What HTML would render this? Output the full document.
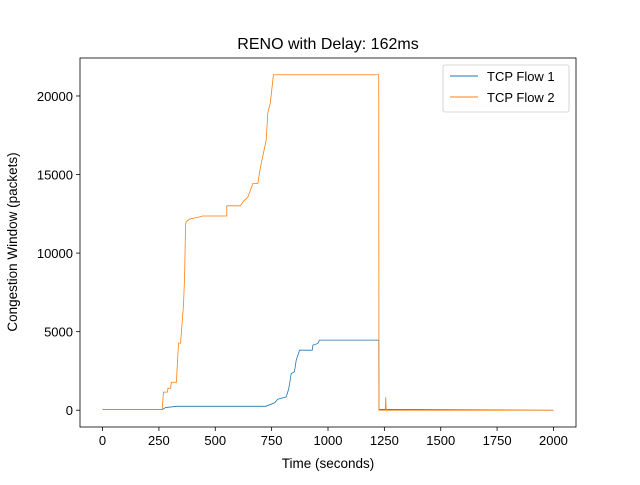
<!DOCTYPE html>
<html><head><meta charset="utf-8"><style>
body{margin:0;background:#fff;}
svg{font-family:"Liberation Sans","DejaVu Sans",sans-serif;}
</style></head><body>
<svg id="chart" width="640" height="480">
<rect width="640" height="480" fill="#fff"/>
<text x="328" y="49" font-size="16" text-anchor="middle">RENO with Delay: 162ms</text>
<g id="grid"></g>
<g id="series"></g>
<rect x="80" y="58" width="496" height="369" fill="none" stroke="#000" stroke-width="0.8"/>
<g id="xticks"></g><g id="yticks"></g>
<text x="328" y="468" font-size="13.5" text-anchor="middle">Time (seconds)</text>
<text transform="translate(17,242) rotate(-90)" font-size="13.5" text-anchor="middle">Congestion Window (packets)</text>
<g>
<rect x="443" y="65" width="126" height="47" fill="#fff" stroke="#ccc" stroke-width="0.8" rx="2"/>
<g>
<line x1="450" y1="76" x2="478" y2="76" stroke="#1f77b4" stroke-width="1"/>
<text x="487" y="81" font-size="13">TCP Flow 1</text></g>
<g>
<line x1="450" y1="97" x2="478" y2="97" stroke="#ff7f0e" stroke-width="1"/>
<text x="487" y="102" font-size="13">TCP Flow 2</text></g>
</g>
</svg>
<script>
const flow1X=[0,265,280,328,723,763,777,815,826,837,851,859,874,930,933,955,962,1225,1226,1255,2000];
const flow1Y=[50,50,170,250,250,465,700,850,1380,2340,2440,3180,3820,3820,4140,4250,4460,4460,50,50,0];
const flow2X=[0,265,270,288,290,302,305,328,330,337,346,359,364,368,371,386,426,443,551,551,611,627,644,659,667,689,696,704,715,726,733,744,758,1225,1226,1254,1256,1258,1262,2000];
const flow2Y=[50,50,1150,1150,1400,1400,1780,1780,2480,4270,4270,6690,8540,11780,12000,12170,12290,12360,12360,13010,13010,13330,13550,14120,14440,14440,15100,15730,16450,17200,18910,19550,21350,21350,0,0,830,0,0,0];
const xTicks=[0,250,500,750,1000,1250,1500,1750,2000];
const yTicks=[0,5000,10000,15000,20000];
const X0=80,X1=576,Y0=427,Y1=58,xmin=-100,xmax=2100,ymin=-1067,ymax=22417;
const sx=v=>X0+(v-xmin)/(xmax-xmin)*(X1-X0);
const sy=v=>Y0-(v-ymin)/(ymax-ymin)*(Y0-Y1);
const NS="http://www.w3.org/2000/svg";
function mk(t,a,p){const e=document.createElementNS(NS,t);for(const k in a)e.setAttribute(k,a[k]);p.appendChild(e);return e;}
const ser=document.getElementById('series');
function line(xs,ys,color,name){
  const d=xs.map((x,i)=>(i?'L':'M')+sx(x).toFixed(2)+' '+sy(ys[i]).toFixed(2)).join(' ');
  const p=mk('path',{d:d,fill:'none',stroke:color,'stroke-width':0.8,'stroke-linejoin':'miter'},ser);
  
  
}
line(flow1X,flow1Y,'#1f77b4','flow-1-line');
line(flow2X,flow2Y,'#ff7f0e','flow-2-line');
const xg=document.getElementById('xticks');
xTicks.forEach(v=>{
  const g=mk('g',{},xg);
  
  
  mk('line',{x1:sx(v),x2:sx(v),y1:Y0,y2:Y0+4,stroke:'#000','stroke-width':0.8},g);
  const t=mk('text',{x:sx(v),y:Y0+18,'font-size':13,'text-anchor':'middle'},g);t.textContent=v;
});
const yg=document.getElementById('yticks');
yTicks.forEach(v=>{
  const g=mk('g',{},yg);
  
  
  mk('line',{x1:X0-4,x2:X0,y1:sy(v),y2:sy(v),stroke:'#000','stroke-width':0.8},g);
  const t=mk('text',{x:X0-7,y:sy(v)+5,'font-size':13,'text-anchor':'end'},g);t.textContent=v;
});
</script>
</body></html>
